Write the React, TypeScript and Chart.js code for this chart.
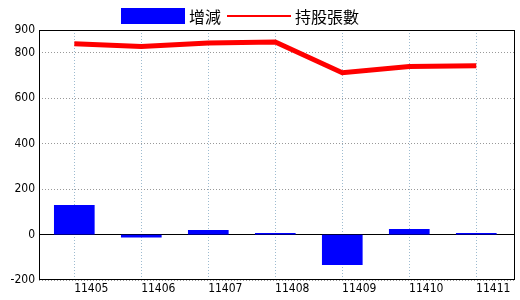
import { useEffect, useRef } from "react";
import { Chart, registerables } from "chart.js";

Chart.register(...registerables);

const categories = ["11405", "11406", "11407", "11408", "11409", "11410", "11411"];
const changeValues = [128, -12, 19, 5, -132, 23, 5];
const holdingValues = [840, 827, 843, 847, 712, 739, 743];
const yTickValues = [-200, 0, 200, 400, 600, 800, 900];
const seriesNames = ["增減", "持股張數"];

const BLUE = "#0000FF";
const RED = "#FF0000";

const frameAndLegend = {
  id: "frameAndLegend",
  afterDatasetsDraw(chart: any) {
    const { ctx, chartArea } = chart;
    ctx.save();
    ctx.strokeStyle = "#000";
    ctx.lineWidth = 1;
    ctx.setLineDash([]);
    const l = Math.round(chartArea.left) + 0.5;
    const t = Math.round(chartArea.top) + 0.5;
    const r = Math.round(chartArea.right) - 0.5;
    const b = Math.round(chartArea.bottom) - 0.5;
    ctx.strokeRect(l, t, r - l, b - t);
    ctx.restore();
  },
  afterDraw(chart: any) {
    const { ctx } = chart;
    const ds = chart.data.datasets;
    const barDs = ds.find((d: any) => d.label === seriesNames[0]);
    const lineDs = ds.find((d: any) => d.label === seriesNames[1]);
    ctx.save();
    ctx.font = '16px "Noto Sans CJK TC"';
    ctx.textBaseline = "middle";
    ctx.fillStyle = "#000";
    const boxW = 64;
    const boxH = 16;
    const gap = 4;
    const itemGap = 6;
    const w0 = ctx.measureText(barDs.label).width;
    const w1 = ctx.measureText(lineDs.label).width;
    const total = boxW + gap + w0 + itemGap + boxW + gap + w1;
    const centerX = 240;
    const cy = 16;
    let x = Math.round(centerX - total / 2);
    ctx.fillStyle = barDs.backgroundColor;
    ctx.fillRect(x, cy - boxH / 2, boxW, boxH);
    x += boxW + gap;
    ctx.fillStyle = "#000";
    ctx.fillText(barDs.label, x, cy + 1);
    x += w0 + itemGap;
    ctx.strokeStyle = lineDs.borderColor;
    ctx.lineWidth = 2;
    ctx.beginPath();
    ctx.moveTo(x, cy);
    ctx.lineTo(x + boxW, cy);
    ctx.stroke();
    x += boxW + gap;
    ctx.fillText(lineDs.label, x, cy + 1);
    ctx.restore();
  },
};

export default function App() {
  const ref = useRef<HTMLCanvasElement | null>(null);

  useEffect(() => {
    if (!ref.current) return;
    const tickFont = { family: '"Liberation Sans Narrow", "DejaVu Sans Condensed", "Liberation Sans", sans-serif', size: 12 };
    const chart = new Chart(ref.current, {
      type: "bar",
      data: {
        datasets: [
          {
            type: "line",
            label: seriesNames[1],
            data: categories.map((_, i) => ({ x: i, y: holdingValues[i] })),
            borderColor: RED,
            backgroundColor: RED,
            borderWidth: 5,
            pointRadius: 0,
            tension: 0,
            order: 0,
          } as any,
          {
            type: "bar",
            label: seriesNames[0],
            data: categories.map((_, i) => ({ x: i, y: changeValues[i] })),
            backgroundColor: BLUE,
            borderWidth: 0,
            barThickness: 40,
            order: 1,
          } as any,
        ],
      },
      options: {
        animation: false,
        responsive: false,
        devicePixelRatio: 1,
        layout: { padding: { top: 30, right: 5, left: 0, bottom: 0 } },
        plugins: {
          legend: { display: false },
          tooltip: { enabled: false },
        },
        scales: {
          x: {
            type: "linear",
            offset: false,
            min: -0.527,
            max: 6.578,
            afterBuildTicks: (scale: any) => {
              scale.ticks = categories.map((_, i) => ({ value: i }));
            },
            afterFit: (scale: any) => {
              scale.height = 20;
            },
            ticks: {
              color: "#000",
              font: tickFont,
              padding: 2,
              align: "center",
              labelOffset: 17,
              autoSkip: false,
              maxRotation: 0,
              callback: (v: any) => categories[Math.round(Number(v))] ?? "",
            },
            grid: {
              offset: false,
              color: "#9DBBD0",
              lineWidth: 1,
              drawTicks: false,
            },
            border: { display: false, dash: [1, 2] },
          },
          y: {
            type: "linear",
            min: -200,
            max: 900,
            afterBuildTicks: (scale: any) => {
              scale.ticks = yTickValues.map((v) => ({ value: v }));
            },
            afterFit: (scale: any) => {
              scale.width = 39;
            },
            ticks: {
              color: "#000",
              font: tickFont,
              padding: 4,
            },
            grid: {
              color: (c: any) => (c.tick && c.tick.value === 0 ? "#000" : "#999999"),
              lineWidth: 1,
              drawTicks: false,
            },
            border: {
              display: false,
              dash: (c: any) => (c.tick && c.tick.value === 0 ? [] : [1, 2]),
            },
          },
        },
      } as any,
      plugins: [frameAndLegend],
    });
    return () => chart.destroy();
  }, []);

  return (
    <div style={{ position: "absolute", left: 0, top: 0, width: 520, height: 300, background: "#fff" }}>
      <canvas ref={ref} width={520} height={300} />
    </div>
  );
}
